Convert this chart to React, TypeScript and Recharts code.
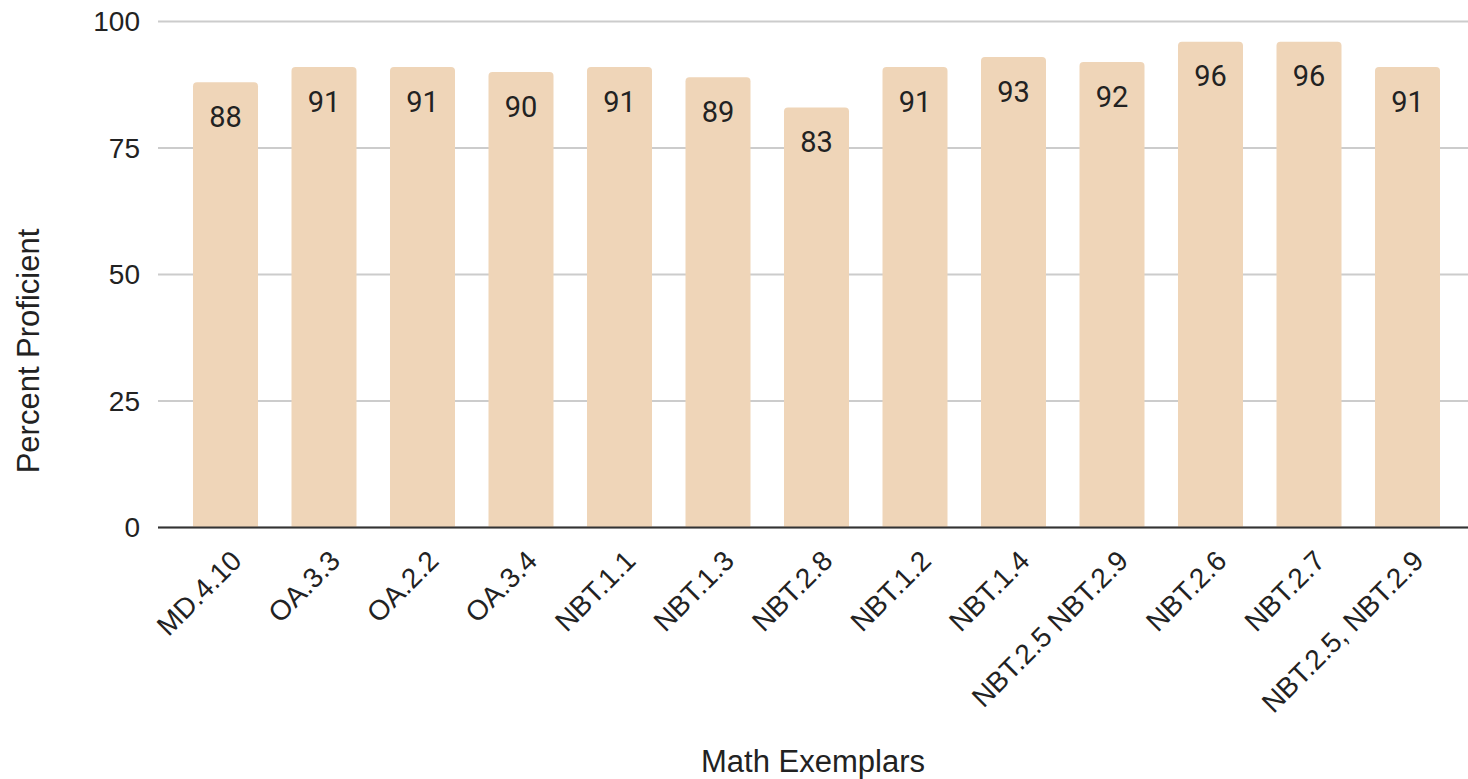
import React from "react";
import { BarChart, Bar, XAxis, YAxis, CartesianGrid, LabelList } from "recharts";

const exemplars = [
  "MD.4.10",
  "OA.3.3",
  "OA.2.2",
  "OA.3.4",
  "NBT.1.1",
  "NBT.1.3",
  "NBT.2.8",
  "NBT.1.2",
  "NBT.1.4",
  "NBT.2.5 NBT.2.9",
  "NBT.2.6",
  "NBT.2.7",
  "NBT.2.5, NBT.2.9",
];
const proficient = [88, 91, 91, 90, 91, 89, 83, 91, 93, 92, 96, 96, 91];
const yTicks = [0, 25, 50, 75, 100];

const data = exemplars.map((name, i) => ({ name, value: proficient[i] }));

const AXIS_FONT = "'Liberation Sans', Arial, sans-serif";

const XTick = (props: any) => {
  const { x, y, payload } = props;
  const ax = x + 18;
  const ay = y + 35;
  return (
    <text
      x={ax}
      y={ay}
      transform={`rotate(-45, ${ax}, ${ay})`}
      textAnchor="end"
      fontSize={28}
      fontFamily={AXIS_FONT}
      fill="#222"
    >
      {payload.value}
    </text>
  );
};

export default function App() {
  return (
    <div style={{ position: "absolute", left: 0, top: 0, background: "#fff" }}>
      <BarChart
        width={1468}
        height={779}
        data={data}
        margin={{ top: 21.5, right: 0, left: 0, bottom: 0 }}
        barSize={65}
      >
        <CartesianGrid vertical={false} stroke="#cccccc" strokeWidth={2} />
        <XAxis
          dataKey="name"
          interval={0}
          height={251.5}
          padding={{ left: 18, right: 11.5 }}
          tickLine={false}
          tickSize={0}
          tickMargin={0}
          axisLine={{ stroke: "#333", strokeWidth: 2 }}
          tick={<XTick />}
          label={{
            content: (p: any) => {
              const vb = p.viewBox;
              return (
                <text
                  x={vb.x + vb.width / 2}
                  y={vb.y + 244}
                  textAnchor="middle"
                  fontSize={31}
                  fontFamily={AXIS_FONT}
                  fill="#222"
                >
                  Math Exemplars
                </text>
              );
            },
          }}
        />
        <YAxis
          width={158}
          domain={[0, 100]}
          ticks={yTicks}
          axisLine={false}
          tickLine={false}
          tickSize={0}
          tickMargin={18}
          tick={{ fontSize: 28, fontFamily: AXIS_FONT, fill: "#222" }}
          label={{
            content: () => (
              <text
                x={39}
                y={351}
                transform="rotate(-90, 39, 351)"
                textAnchor="middle"
                fontSize={31}
                fontFamily={AXIS_FONT}
                fill="#222"
              >
                Percent Proficient
              </text>
            ),
          }}
        />
        <Bar dataKey="value" fill="#EFD5B8" radius={[4, 4, 0, 0]} isAnimationActive={false}>
          <LabelList
            dataKey="value"
            position="insideTop"
            offset={24}
            fontSize={29}
            fontFamily="Roboto, sans-serif"
            fill="#222"
          />
        </Bar>
      </BarChart>
    </div>
  );
}
